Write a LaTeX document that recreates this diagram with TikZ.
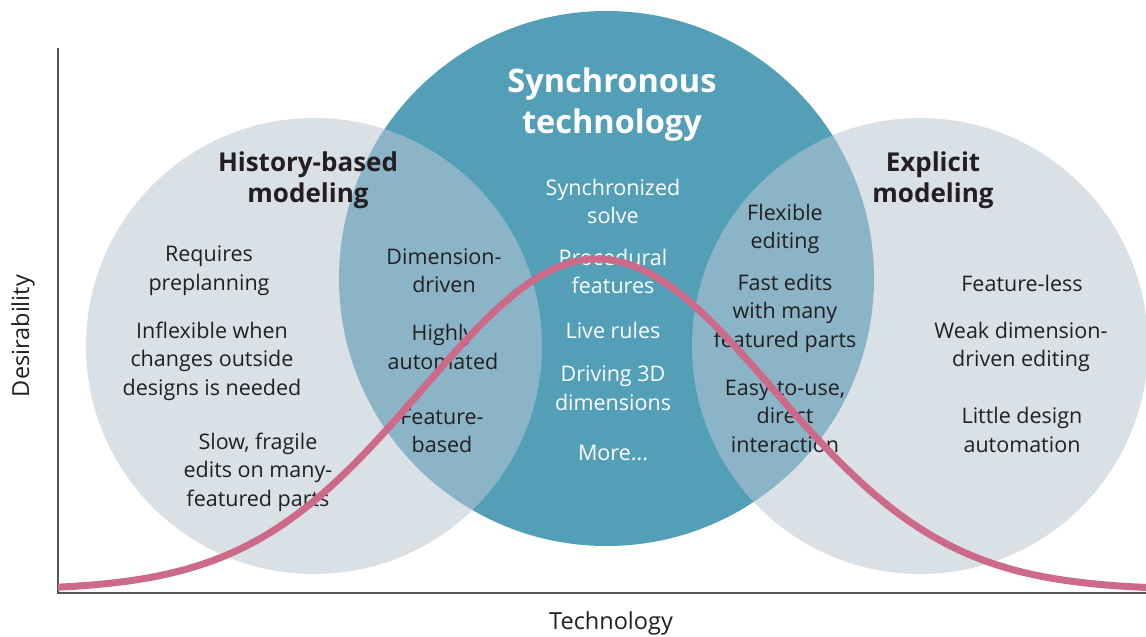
\documentclass[tikz,border=0pt]{standalone}
\usepackage{fontspec}
\setmainfont{Open Sans}
\definecolor{tealc}{RGB}{83,159,184}
\definecolor{sidec}{RGB}{186,199,211}
\definecolor{curvec}{RGB}{205,106,138}
\definecolor{txtc}{RGB}{35,31,32}
\definecolor{axisc}{RGB}{85,85,85}
\begin{document}
\begin{tikzpicture}[x=1pt,y=-1pt,
  body/.style={text=txtc, align=center, font=\fontsize{21.5}{28.5}\selectfont, inner sep=0pt},
  wbody/.style={body, text=white},
  axlabel/.style={body, font=\fontsize{23.5}{28}\selectfont},
  title/.style={text=txtc, align=center, font=\fontsize{26}{31}\selectfont\bfseries, inner sep=0pt},
  wtitle/.style={title, text=white, font=\fontsize{32.5}{41}\selectfont\bfseries},
  sidecircle/.style={circle, inner sep=0pt, minimum size=456pt, fill=sidec, fill opacity=0.55},
  axisline/.style={draw=axisc, line width=1.5pt},
  bell/.style={draw=curvec, line width=7pt}
]
\clip (0,0) rectangle (1146,637);
\fill[white] (0,0) rectangle (1146,637);
% circles
\node (sync) [circle, inner sep=0pt, minimum size=535pt, fill=tealc] at (606.5,278.5) {};
\node (hist) [sidecircle] at (314,346) {};
\node (expl) [sidecircle] at (920,346) {};
% axes
\coordinate (ytop) at (58,48);
\coordinate (orig) at (58,593);
\coordinate (xend) at (1146,593);
\draw[axisline] (ytop) -- (orig) -- (xend);
\node (ylab) [axlabel, rotate=90] at (23,336) {Desirability};
\node (xlab) [axlabel] at (611,623) {Technology};
% titles
\node (t1) [wtitle] at (612,104.5) {Synchronous\\technology};
\node (t2) [title] at (308,180.5) {History-based\\modeling};
\node (t3) [title] at (933,180.5) {Explicit\\modeling};
% centre texts
\node (c1) [wbody] at (613,201.5) {Synchronized\\solve};
\node (c2) [wbody] at (613,271.5) {Procedural\\features};
\node (c3) [wbody] at (613,330) {Live rules};
\node (c4) [wbody] at (613,388) {Driving 3D\\dimensions};
\node (c5) [wbody] at (613,453) {More...};
% left overlap
\node (l1) [body] at (444,270.5) {Dimension-\\driven};
\node (l2) [body] at (443,347) {Highly\\automated};
\node (l3) [body] at (442,431) {Feature-\\based};
% left circle
\node (h1) [body] at (209,270.5) {Requires\\preplanning};
\node (h2) [body] at (212,361) {Inflexible when\\changes outside\\designs is needed};
\node (h3) [body] at (258,472) {Slow, fragile\\edits on many-\\featured parts};
% right overlap
\node (r1) [body] at (785,229) {Flexible\\editing};
\node (r2) [body] at (785,313) {Fast edits\\with many\\featured parts};
\node (r3) [body] at (785,416) {Easy-to-use,\\direct\\interaction};
% right circle
\node (e1) [body] at (1022,283) {Feature-less};
\node (e2) [body] at (1021,347) {Weak dimension-\\driven editing};
\node (e3) [body] at (1022,430) {Little design\\automation};
% bell curve (slightly wider on the right)
\draw[bell] plot[domain=58:597, samples=140, smooth] (\x, {590-331*exp(-((\x-597)/100)*((\x-597)/100)/6.1)})
  -- plot[domain=597:1146, samples=140, smooth] (\x, {590-331*exp(-((\x-597)/100)*((\x-597)/100)/6.2)});
\end{tikzpicture}
\end{document}
